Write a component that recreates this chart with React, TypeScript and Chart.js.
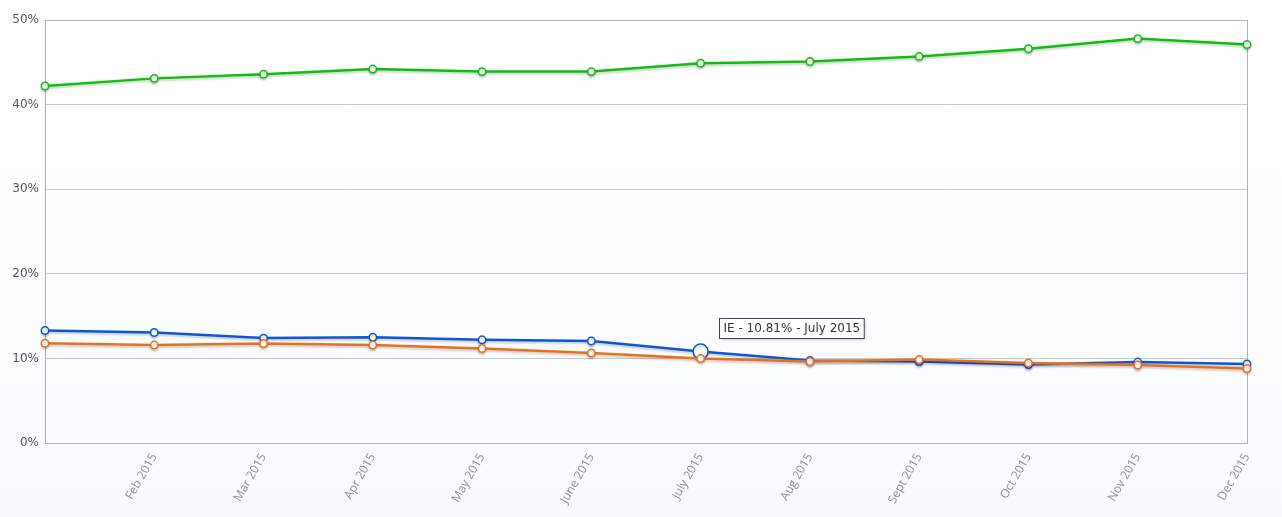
import React, { useEffect, useRef } from "react";
import { Chart, registerables } from "chart.js";

Chart.register(...registerables);

const months = ["Jan 2015", "Feb 2015", "Mar 2015", "Apr 2015", "May 2015", "June 2015", "July 2015", "Aug 2015", "Sept 2015", "Oct 2015", "Nov 2015", "Dec 2015"];
const chromeValues = [42.2, 43.1, 43.6, 44.2, 43.9, 43.9, 44.9, 45.1, 45.7, 46.6, 47.8, 47.1];
const ieValues = [13.3, 13.06, 12.4, 12.5, 12.2, 12.06, 10.81, 9.75, 9.63, 9.28, 9.57, 9.34];
const firefoxValues = [11.8, 11.58, 11.76, 11.58, 11.17, 10.64, 9.99, 9.63, 9.87, 9.46, 9.22, 8.8];
const yTicks = [0, 10, 20, 30, 40, 50];
const tooltipLabel = "IE - 10.81% - July 2015";
const hoverIndex = 6;

const shadowPlugin = {
  id: "lineShadow",
  beforeDatasetDraw(chart: any) {
    const ctx = chart.ctx;
    ctx.save();
    ctx.shadowColor = "rgba(0,0,0,0.18)";
    ctx.shadowBlur = 2;
    ctx.shadowOffsetY = 2;
  },
  afterDatasetDraw(chart: any) {
    chart.ctx.restore();
  },
};

const frameAndTooltip = {
  id: "frameAndTooltip",
  beforeDatasetsDraw(chart: any) {
    const { ctx, chartArea } = chart;
    ctx.save();
    ctx.strokeStyle = "#b0b0b0";
    ctx.lineWidth = 1;
    ctx.strokeRect(Math.round(chartArea.left) + 0.5, Math.round(chartArea.top) + 0.5, Math.round(chartArea.right - chartArea.left), Math.round(chartArea.bottom - chartArea.top));
    ctx.restore();
  },
  afterDraw(chart: any) {
    const { ctx } = chart;
    const meta = chart.getDatasetMeta(1);
    const pt = meta.data[hoverIndex];
    if (!pt) return;
    ctx.save();
    ctx.font = "12px 'DejaVu Sans', Verdana, sans-serif";
    const w = ctx.measureText(tooltipLabel).width + 8;
    const h = 20;
    const x = Math.round(pt.x + 18) + 0.5;
    const y = Math.round(pt.y - 34) + 0.5;
    ctx.shadowColor = "rgba(0,0,0,0.3)";
    ctx.shadowBlur = 3;
    ctx.shadowOffsetX = 1;
    ctx.shadowOffsetY = 1;
    ctx.fillStyle = "#ffffff";
    ctx.fillRect(x, y, w, h);
    ctx.shadowColor = "transparent";
    ctx.strokeStyle = "#444";
    ctx.lineWidth = 1;
    ctx.strokeRect(x, y, w, h);
    ctx.fillStyle = "#333";
    ctx.textBaseline = "middle";
    ctx.fillText(tooltipLabel, x + 4, y + h / 2 + 0.5);
    ctx.restore();
  },
};

export default function App() {
  const ref = useRef<HTMLCanvasElement>(null);
  useEffect(() => {
    document.body.style.margin = "0";
    const canvas = ref.current!;
    const mk = (color: string, data: number[], hover: boolean) => ({
      data,
      borderColor: color,
      borderWidth: 2.5,
      pointBackgroundColor: "#ffffff",
      pointBorderColor: color,
      pointBorderWidth: 1.5,
      pointRadius: (c: any) => (hover && c.dataIndex === hoverIndex ? 7.5 : 3.7),
      tension: 0,
      fill: false,
    });
    const chart = new Chart(canvas, {
      type: "line",
      data: {
        labels: months,
        datasets: [
          { label: "Firefox", ...mk("#e8701a", firefoxValues, false) },
          { label: "IE", ...mk("#0b55d8", ieValues, true) },
          { label: "Chrome", ...mk("#0cbf0c", chromeValues, false) },
        ],
      },
      options: {
        animation: false,
        responsive: false,
        events: [],
        layout: { padding: { top: 20, right: 35, left: 0, bottom: 0 } },
        plugins: { legend: { display: false }, tooltip: { enabled: false } },
        scales: {
          x: {
            offset: false,
            grid: { display: false, drawTicks: false },
            border: { display: false },
            afterFit(scale: any) { scale.height = 74; },
            ticks: {
              autoSkip: false,
              maxRotation: 60,
              minRotation: 60,
              padding: 8,
              color: "#8a8f99",
              font: { family: "'Open Sans', sans-serif", size: 12 },
              callback: (_v: any, i: number) => (i === 0 ? "" : months[i]),
            },
          },
          y: {
            min: 0,
            max: 50,
            afterBuildTicks(scale: any) { scale.ticks = yTicks.map((v) => ({ value: v })); },
            afterFit(scale: any) { scale.width = 45; },
            grid: { color: "#c8c8c8", drawTicks: false, lineWidth: 1 },
            border: { display: false },
            ticks: {
              padding: 6,
              color: "#555",
              font: { family: "'DejaVu Sans', Verdana, sans-serif", size: 12 },
              callback: (v: any) => v + "%",
            },
          },
        },
      },
      plugins: [frameAndTooltip, shadowPlugin],
    } as any);
    return () => chart.destroy();
  }, []);
  return (
    <div style={{ position: "absolute", left: 0, top: 0, width: 1282, height: 517, background: "linear-gradient(#ffffff 0%, #ffffff 30%, #f8fafd 100%)" }}>
      <canvas ref={ref} width={1282} height={517} style={{ display: "block" }} />
    </div>
  );
}
